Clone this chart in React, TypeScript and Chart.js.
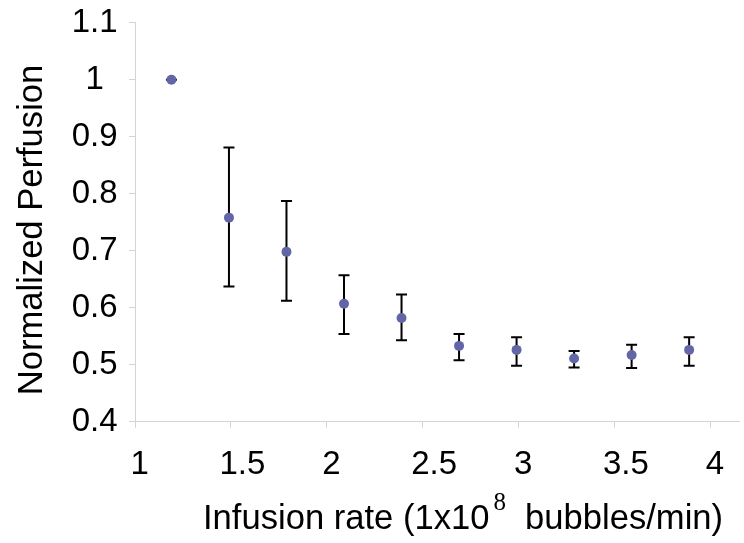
import React, { useEffect, useRef } from "react";
import { Chart, registerables } from "chart.js";

Chart.register(...registerables);

const xValues = [1.19, 1.49, 1.79, 2.09, 2.39, 2.69, 2.99, 3.29, 3.59, 3.89];
const yValues = [1.0, 0.758, 0.698, 0.607, 0.582, 0.533, 0.526, 0.511, 0.517, 0.526];
const yUpper = [1.0, 0.881, 0.787, 0.657, 0.623, 0.554, 0.548, 0.524, 0.535, 0.548];
const yLower = [1.0, 0.637, 0.612, 0.554, 0.543, 0.508, 0.498, 0.495, 0.494, 0.498];
const xTicks = [1, 1.5, 2, 2.5, 3, 3.5, 4];
const yTicks = [0.4, 0.5, 0.6, 0.7, 0.8, 0.9, 1.0, 1.1];
const yTitle = "Normalized Perfusion";
const xTitleMain = "Infusion rate (1x10";
const xTitleSup = "8";
const xTitleEnd = "bubbles/min)";

const FONT = "'Liberation Sans', Arial, sans-serif";
const AXIS = "#d4d4d4";

export default function App() {
  const ref = useRef<HTMLCanvasElement>(null);
  useEffect(() => {
    const canvas = ref.current!;
    const errorBars = {
      id: "errorBars",
      beforeDatasetsDraw(chart: any) {
        const ctx = chart.ctx;
        const xs = chart.scales.x;
        const ys = chart.scales.y;
        ctx.save();
        ctx.strokeStyle = "#000";
        ctx.lineWidth = 2;
        for (let i = 0; i < xValues.length; i++) {
          const px = xs.getPixelForValue(xValues[i]);
          const top = ys.getPixelForValue(yUpper[i]);
          const bot = ys.getPixelForValue(yLower[i]);
          ctx.beginPath();
          ctx.moveTo(px, top);
          ctx.lineTo(px, bot);
          ctx.moveTo(px - 5.5, top);
          ctx.lineTo(px + 5.5, top);
          ctx.moveTo(px - 5.5, bot);
          ctx.lineTo(px + 5.5, bot);
          ctx.stroke();
        }
        ctx.restore();
      },
      afterDraw(chart: any) {
        const ctx = chart.ctx;
        const xs = chart.scales.x;
        ctx.save();
        ctx.fillStyle = "#000";
        // x tick labels
        ctx.font = `33px ${FONT}`;
        ctx.textAlign = "center";
        ctx.textBaseline = "alphabetic";
        xs.ticks.forEach((t: any, i: number) => {
          const label = String(t.value);
          const w = ctx.measureText(label).width;
          const px = xs.getPixelForTick(i);
          ctx.fillText(label, px + 0.25 * w, 474);
        });
        // x title
        ctx.font = `34.6px ${FONT}`;
        ctx.textAlign = "left";
        const x0 = 203;
        ctx.fillText(xTitleMain, x0, 529);
        const w1 = ctx.measureText(xTitleMain).width;
        const sp = ctx.measureText(" ").width;
        ctx.font = `25px 'Liberation Serif', 'Times New Roman', serif`;
        const sx = x0 + w1 + 4;
        ctx.fillText(xTitleSup, sx, 510);
        const w8 = ctx.measureText(xTitleSup).width;
        ctx.font = `34.6px ${FONT}`;
        ctx.fillText(xTitleEnd, sx + w8 + sp * 2, 529);
        // y title
        ctx.translate(41.5, 230);
        ctx.rotate(-Math.PI / 2);
        ctx.textAlign = "center";
        ctx.fillText(yTitle, 0, 0);
        ctx.restore();
      },
    };
    const chart = new Chart(canvas, {
      type: "scatter",
      data: {
        datasets: [
          {
            data: xValues.map((x, i) => ({ x, y: yValues[i] })),
            backgroundColor: "#6366a6",
            borderWidth: 0,
            pointRadius: 5,
            pointHoverRadius: 5,
            showLine: false,
          },
        ],
      },
      options: {
        responsive: false,
        animation: false,
        events: [],
        layout: { padding: { top: 22.7, left: 0, right: 0, bottom: 0 } },
        plugins: { legend: { display: false }, tooltip: { enabled: false } },
        scales: {
          x: {
            type: "linear",
            min: 1,
            max: 4.15,
            afterBuildTicks: (s: any) => {
              s.ticks = xTicks.map((v) => ({ value: v }));
            },
            afterFit: (s: any) => {
              s.height = 543 - 421.7;
              s.paddingLeft = 0;
              s.paddingRight = 0;
            },
            ticks: { display: false },
            grid: { display: true, drawOnChartArea: false, drawTicks: true, tickLength: 6, color: AXIS },
            border: { display: true, color: AXIS, width: 1 },
          },
          y: {
            type: "linear",
            min: 0.4,
            max: 1.1,
            afterBuildTicks: (s: any) => {
              s.ticks = yTicks.map((v) => ({ value: v }));
            },
            afterFit: (s: any) => {
              s.width = 135;
              s.paddingTop = 0;
              s.paddingBottom = 0;
            },
            ticks: {
              font: { family: FONT, size: 33 },
              color: "#000",
              crossAlign: "center",
              padding: 11.5,
              callback: (v: any) => String(Math.round(Number(v) * 10) / 10),
            },
            grid: { display: true, drawOnChartArea: false, drawTicks: true, tickLength: 6, color: AXIS },
            border: { display: true, color: AXIS, width: 1 },
          },
        },
      },
      plugins: [errorBars],
    } as any);
    return () => chart.destroy();
  }, []);
  return (
    <div style={{ position: "fixed", left: 0, top: 0, width: 744, height: 543, background: "#fff" }}>
      <canvas ref={ref} width={744} height={543} style={{ width: 744, height: 543 }} />
    </div>
  );
}
